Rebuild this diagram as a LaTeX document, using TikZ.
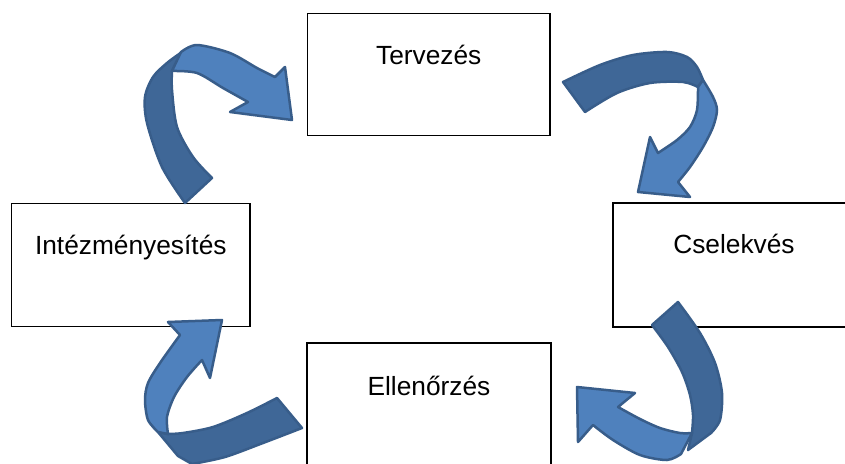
\documentclass[tikz,border=0pt]{standalone}
\usepackage{fontspec}
\setmainfont{Liberation Sans}
\definecolor{afill}{HTML}{4F81BD}
\definecolor{adark}{HTML}{3F6797}
\definecolor{aline}{HTML}{385D8A}
\begin{document}
\begin{tikzpicture}[x=1pt,y=-1pt,
  box/.style={draw=black,line width=1.3pt,fill=white,rectangle,inner sep=0pt,outer sep=0pt},
  lbl/.style={anchor=base,inner sep=0pt,font=\fontsize{26.3}{30}\selectfont},
  backpart/.style={fill=adark,draw=aline,line width=2.5pt,line join=round},
  frontpart/.style={fill=afill,draw=aline,line width=2.5pt,line join=round}]
\useasboundingbox (0,0) rectangle (845,463);
\clip (0,0) rectangle (845,463);
\fill[white] (0,0) rectangle (845,463);
% boxes
\node[box,minimum width=242.7pt,minimum height=122.4pt] (terv) at (428.7,74.5) {};
\node[box,minimum width=238.3pt,minimum height=123.4pt] (intez) at (130.8,265) {};
\node[box,minimum width=242pt,minimum height=124pt] (csel) at (734,265) {};
\node[box,minimum width=244pt,minimum height=123pt] (ellen) at (429,404.5) {};
\node[lbl] (tervt) at ([yshift=-51.5pt]terv.north) {Tervezés};
\node[lbl] (intezt) at ([yshift=-51pt]intez.north) {Intézményesítés};
\node[lbl] (cselt) at ([yshift=-50.5pt]csel.north) {Cselekvés};
\node[lbl] (ellent) at ([yshift=-52pt]ellen.north) {Ellenőrzés};
% arrow 1: Intezmenyesites -> Tervezes
\path[backpart] (185,203) -- plot[smooth] coordinates {(185,203) (162,167) (147,123) (145,97) (153,77) (167,63) (182,52)}
  -- (172,71) -- plot[smooth] coordinates {(172,71) (172,90) (177,127) (193,157) (212,178)} -- cycle;
\path[frontpart] (172,71) -- (181,52) -- plot[smooth] coordinates {(181,52) (197,45) (230,53) (257,68) (275,77)}
  -- (285,67) -- (292,120) -- (230,112) -- (248,102)
  -- plot[smooth] coordinates {(248,102) (223,88) (197,73) (172,71)} -- cycle;
% arrow 2: Tervezes -> Cselekves
\path[backpart] (563,82) -- plot[smooth] coordinates {(563,82) (600,65) (633,55) (667,52) (687,57) (697,67) (703,80)}
  -- (698,87) -- plot[smooth] coordinates {(698,87) (683,82) (650,83) (617,93) (585,112)} -- cycle;
\path[frontpart] (698,87) -- (703,80) -- plot[smooth] coordinates {(703,80) (713,97) (717,110) (713,127) (703,147) (690,167) (678,182)}
  -- (690,197) -- (638,192) -- (650,137) -- (658,153)
  -- plot[smooth] coordinates {(658,153) (677,140) (690,127) (697,110) (698,87)} -- cycle;
% arrow 3: Cselekves -> Ellenorzes
\path[backpart] (652,325) -- (678,302) -- plot[smooth] coordinates {(678,302) (700,333) (715,363) (722,393) (720,420) (711,433)}
  -- (688,450) -- (692,433) -- plot[smooth] coordinates {(692,433) (693,415) (690,395) (682,372) (668,347) (652,325)} -- cycle;
\path[frontpart] (692,433) -- (681,454) -- plot[smooth] coordinates {(681,454) (667,460) (640,455) (613,440) (593,425)}
  -- (578,442) -- (577,387) -- (635,393) -- (618,407)
  -- plot[smooth] coordinates {(618,407) (640,419) (660,428) (680,433) (692,433)} -- cycle;
% arrow 4: Ellenorzes -> Intezmenyesites
\path[backpart] (277,398) -- (302,428) -- plot[smooth] coordinates {(302,428) (263,443) (225,457) (192,464)}
  -- (178,456) -- (158,432) -- (168,434)
  -- plot[smooth] coordinates {(168,434) (183,433) (213,427) (247,413) (277,398)} -- cycle;
\path[frontpart] (168,434) -- (158,432) -- plot[smooth] coordinates {(158,432) (148,420) (145,400) (148,383) (160,363) (180,335)}
  -- (168,322) -- (222,320) -- (210,378) -- (202,360)
  -- plot[smooth] coordinates {(202,360) (187,377) (174,397) (167,417) (168,434)} -- cycle;
\end{tikzpicture}
\end{document}
